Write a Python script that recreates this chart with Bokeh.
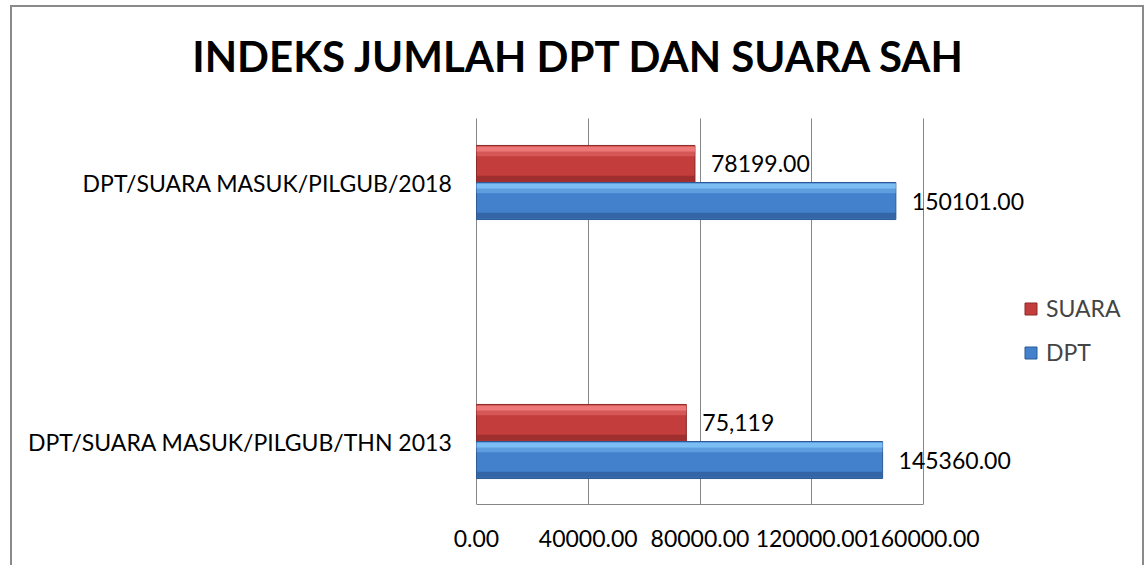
from bokeh.plotting import figure
from bokeh.models import (ColumnDataSource, FixedTicker, Label, LabelSet,
                          Legend, LegendItem)
from bokeh.embed import file_html
from bokeh.resources import INLINE
from bokeh.core.properties import value

# ---- data ----
categories = ["DPT/SUARA MASUK/PILGUB/THN 2013", "DPT/SUARA MASUK/PILGUB/2018"]
suara = [75119, 78199]
dpt = [145360, 150101]
suara_labels = ["75,119", "78199.00"]
dpt_labels = ["145360.00", "150101.00"]
x_ticks = [0, 40000, 80000, 120000, 160000]
x_tick_labels = ["0.00", "40000.00", "80000.00", "120000.00", "160000.00"]
title_text = "INDEKS JUMLAH DPT DAN SUARA SAH"

FONT = "Lato"
FS = "23px"
BAR_H = 0.143
pos = list(range(len(categories)))
suara_y = [q + BAR_H / 2 for q in pos]
dpt_y = [q - BAR_H / 2 for q in pos]

# ---- layout geometry (pixels) ----
W, H = 1134, 560
BOTTOM = 63
FRAME_H = H - BOTTOM            # frame covers everything above the x axis
PX_PER_UNIT_X = 447 / 160000    # axis 0..160000 spans 447 px
ZERO_PX = 464                   # x of value 0 inside the frame
PX_PER_CAT = 259
CAT0_PX_FROM_BOTTOM = 63
x_start = -ZERO_PX / PX_PER_UNIT_X
x_end = (W - ZERO_PX) / PX_PER_UNIT_X
y_start = -CAT0_PX_FROM_BOTTOM / PX_PER_CAT
y_end = y_start + FRAME_H / PX_PER_CAT
plot_top = y_start + 386 / PX_PER_CAT

p = figure(width=W, height=H, x_range=(x_start, x_end), y_range=(y_start, y_end),
           output_backend="svg", toolbar_location=None, y_axis_location=None,
           min_border_left=0, min_border_right=0, min_border_top=0,
           min_border_bottom=BOTTOM)
p.styles = {"margin-left": "10px", "margin-top": "5px",
            "border-left": "2px solid #8a8a8a", "border-top": "2px solid #8a8a8a",
            "border-right": "2px solid #8a8a8a"}
p.outline_line_color = None
p.background_fill_color = "white"


def bevel_bars(ys, vals, mid, top, bottom, edge):
    src = ColumnDataSource(dict(y=ys, v=vals))
    main = p.hbar(y="y", right="v", left=0, height=BAR_H, source=src,
                  fill_color=mid, line_color=edge, line_width=1)
    src_t = ColumnDataSource(dict(y=[y + BAR_H * 0.40 for y in ys], v=vals))
    p.hbar(y="y", right="v", left=0, height=BAR_H * 0.14, source=src_t,
           fill_color=top, line_color=None, fill_alpha=0.95)
    src_t2 = ColumnDataSource(dict(y=[y + BAR_H * 0.27 for y in ys], v=vals))
    p.hbar(y="y", right="v", left=0, height=BAR_H * 0.12, source=src_t2,
           fill_color=top, line_color=None, fill_alpha=0.45)
    src_b = ColumnDataSource(dict(y=[y - BAR_H * 0.40 for y in ys], v=vals))
    p.hbar(y="y", right="v", left=0, height=BAR_H * 0.16, source=src_b,
           fill_color=bottom, line_color=None, fill_alpha=0.7)
    return main


r_suara = bevel_bars(suara_y, suara, "#c23d3b", "#ee7b7b", "#8e2a29", "#8e2a29")
r_dpt = bevel_bars(dpt_y, dpt, "#4381cd", "#80c0f5", "#2d5a95", "#2d5a95")

# data labels
for vals, ys, labs in ((suara, suara_y, suara_labels), (dpt, dpt_y, dpt_labels)):
    p.add_layout(LabelSet(x="v", y="y", text="t", x_offset=16,
                          source=ColumnDataSource(dict(v=vals, y=ys, t=labs)),
                          text_baseline="middle", text_font=value(FONT),
                          text_font_size=FS, text_color="black"))

# category labels (left of the value axis)
p.add_layout(LabelSet(x="x", y="y", text="t", x_offset=-24,
                      source=ColumnDataSource(dict(x=[0] * len(pos), y=pos,
                                                   t=categories)),
                      text_align="right", text_baseline="middle",
                      text_font=value(FONT), text_font_size=FS,
                      text_color="black"))

# x axis
p.xaxis.ticker = FixedTicker(ticks=x_ticks)
p.xaxis.major_label_overrides = {t: l for t, l in zip(x_ticks, x_tick_labels)}
p.xaxis.bounds = (0, 160000)
p.xaxis.axis_line_color = "#868686"
p.xaxis.major_tick_line_color = None
p.xaxis.minor_tick_line_color = None
p.xaxis.major_tick_out = 0
p.xaxis.major_label_text_font = FONT
p.xaxis.major_label_text_font_size = FS
p.xaxis.major_label_text_color = "black"
p.xaxis.major_label_standoff = 25
p.xgrid.ticker = FixedTicker(ticks=x_ticks)
p.xgrid.grid_line_color = "#868686"
p.xgrid.cross_bounds = (y_start, plot_top)
p.ygrid.grid_line_color = None

# title
p.add_layout(Label(x=567, y=449, x_units="screen", y_units="screen",
                   text=title_text, text_align="center", text_baseline="middle",
                   text_font=FONT, text_font_style="bold",
                   text_font_size="42px", text_color="black"))

# legend
legend = Legend(items=[LegendItem(label="SUARA", renderers=[r_suara]),
                       LegendItem(label="DPT", renderers=[r_dpt])],
                location=(1011, 138), glyph_width=15, glyph_height=15,
                label_height=28, spacing=16, padding=0, margin=0,
                label_standoff=8, border_line_color=None,
                background_fill_alpha=0, label_text_font=FONT,
                label_text_font_size=FS)
p.add_layout(legend)

open("out.html", "w").write(file_html(p, INLINE))
